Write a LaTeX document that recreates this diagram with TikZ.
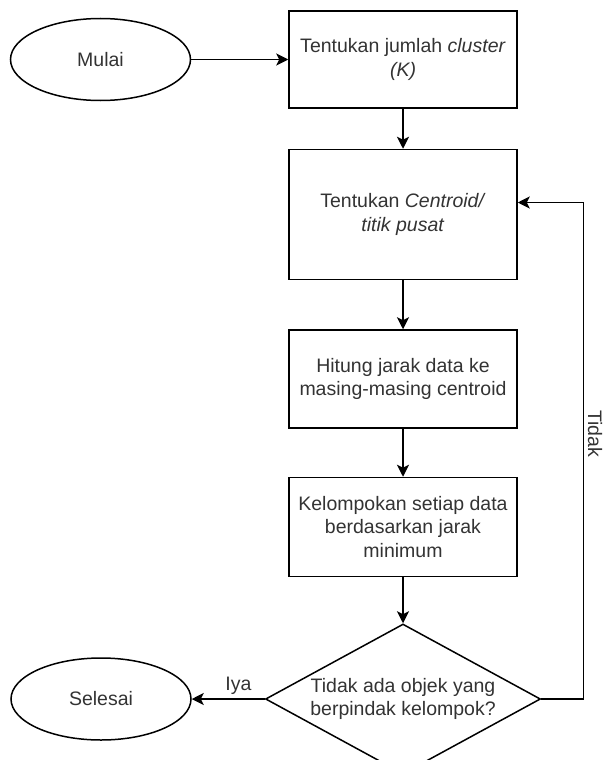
\documentclass[tikz,border=0pt]{standalone}
\usepackage{fontspec}
\setmainfont{Liberation Sans}
\usepackage{xcolor}
\usetikzlibrary{arrows.meta,positioning,shapes.geometric}
\definecolor{teksabu}{HTML}{333333}

\begin{document}
\begin{tikzpicture}[
  x=1pt, y=-1pt,
  node distance=40pt and 97pt,
  font=\fontsize{19.5}{23.4}\selectfont,
  proses/.style={draw,line width=1.5pt,align=center,text=teksabu,minimum width=228pt,inner sep=0pt},
  terminal/.style={draw,ellipse,line width=1.5pt,text=teksabu,minimum width=180pt,minimum height=82pt},
  keputusan/.style={draw,diamond,line width=1.5pt,minimum width=275pt,minimum height=150pt,inner sep=0pt},
  panah/.style={-{Stealth[length=12pt,width=12pt,inset=3pt]},line width=1.5pt}
]
\useasboundingbox (0,0) rectangle (604,760);

\node[proses, minimum height=97pt] (jumlahK) at (403,59.5) {Tentukan jumlah \textit{cluster}\\\textit{(K)}};
\node[terminal, left=97pt of jumlahK] (mulai) {Mulai};
\node[proses, minimum height=130pt, below=of jumlahK] (centroid) {Tentukan \textit{Centroid/}\\\textit{titik pusat}};
\node[proses, minimum height=98pt, below=49pt of centroid] (jarak) {Hitung jarak data ke\\masing-masing centroid};
\node[proses, minimum height=99pt, below=48pt of jarak] (kelompok) {Kelompokan setiap data\\berdasarkan jarak\\minimum};
\node[keputusan, below=46pt of kelompok,
  label={[align=center,text=teksabu]center:{Tidak ada objek yang\\berpindak kelompok?}}] (cek) {};
\node[terminal, left=73pt of cek] (selesai) {Selesai};

\draw[panah] (mulai) -- (jumlahK);
\draw[panah] (jumlahK) -- (centroid);
\draw[panah] (centroid) -- (jarak);
\draw[panah] (jarak) -- (kelompok);
\draw[panah] (kelompok) -- (cek);
\draw[panah] (cek) -- node[above,pos=0.36,text=teksabu]{Iya} (selesai);
\draw[panah] (cek.east) -- ++(42pt,0) |- node[pos=0.267,rotate=-90,anchor=south,inner sep=4pt,text=teksabu]{Tidak} ([yshift=12pt]centroid.east);
\end{tikzpicture}
\end{document}
